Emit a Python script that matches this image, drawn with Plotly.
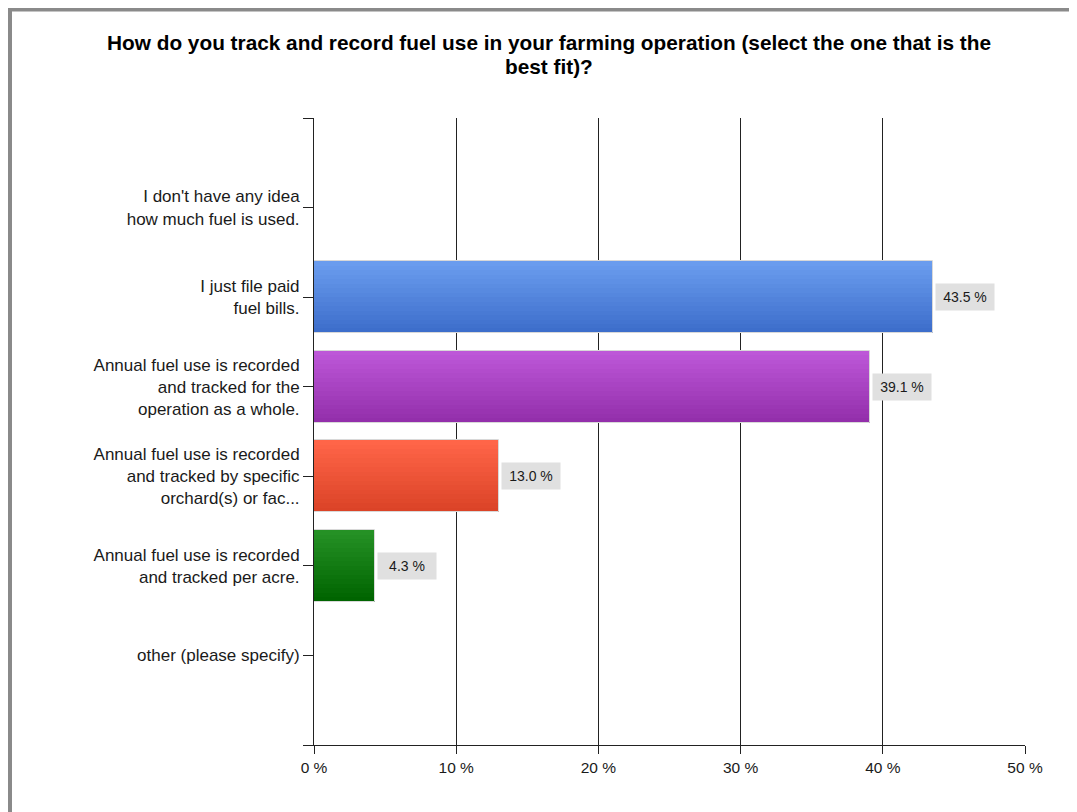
import plotly.graph_objects as go

# ---- data ----
categories = [
    "I don't have any idea<br>how much fuel is used.",
    "I just file paid<br>fuel bills.",
    "Annual fuel use is recorded<br>and tracked for the<br>operation as a whole.",
    "Annual fuel use is recorded<br>and tracked by specific<br>orchard(s) or fac...",
    "Annual fuel use is recorded<br>and tracked per acre.",
    "other (please specify)",
]
values = [0.0, 43.5, 39.1, 13.0, 4.3, 0.0]
value_labels = ["", "43.5 %", "39.1 %", "13.0 %", "4.3 %", ""]
x_ticks = [0, 10, 20, 30, 40, 50]
x_tick_labels = ["0 %", "10 %", "20 %", "30 %", "40 %", "50 %"]
title_lines = [
    "How do you track and record fuel use in your farming operation (select the one that is the",
    "best fit)?",
]

# gradient colours (top, bottom) per bar
top_colors = ["#6a9cee", "#6a9cee", "#bd57d8", "#ff6548", "#259125", "#259125"]
bottom_colors = ["#3d6ecb", "#3d6ecb", "#932fab", "#db4327", "#006400", "#006400"]

# page body has an 8px margin; compensate
OFF = 8
W, H = 1077 - OFF, 812 - OFF
ML, MT = 314 - OFF, 118 - OFF
MR, MB = 1077 - 1025, 812 - 745
PW, PH = W - ML - MR, H - MT - MB

FONT = "Liberation Sans, Arial, sans-serif"
TXT = "#1a1a1a"


def hex2rgb(h):
    h = h.lstrip("#")
    return tuple(int(h[i:i + 2], 16) for i in (0, 2, 4))


def mix(c1, c2, t):
    a, b = hex2rgb(c1), hex2rgb(c2)
    return "rgb(%d,%d,%d)" % tuple(round(a[i] + (b[i] - a[i]) * t) for i in range(3))


# reference-pixel -> paper coords
def px_x(px):
    return (px - OFF - ML) / PW


def px_y(py):
    return (MT + PH - (py - OFF)) / PH


fig = go.Figure()
ypos = list(range(len(categories)))
N = 16
BW = 0.8
for k in range(N):
    t = k / (N - 1)
    fig.add_trace(go.Bar(
        x=values, y=ypos, orientation="h",
        width=BW / N + 0.002, offset=-BW / 2 + k * BW / N,
        marker=dict(color=[mix(top_colors[i], bottom_colors[i], t) for i in range(len(values))],
                    line=dict(width=0)),
        hoverinfo="skip", showlegend=False,
    ))
# outline
fig.add_trace(go.Bar(
    x=values, y=ypos, orientation="h", width=BW,
    marker=dict(color="rgba(0,0,0,0)", line=dict(color="#d8d8d8", width=1)),
    hoverinfo="skip", showlegend=False,
))

for i, (v, lab) in enumerate(zip(values, value_labels)):
    if lab:
        fig.add_annotation(
            x=v, y=i, xref="x", yref="y", text=lab, showarrow=False,
            xanchor="left", yanchor="middle", xshift=2,
            bgcolor="#e0e0e0", width=56, height=24, align="center",
            font=dict(family=FONT, size=14, color=TXT),
        )

# title (two lines, tighter spacing like the reference)
for line, py in zip(title_lines, [43, 67]):
    fig.add_annotation(
        x=px_x(549), y=px_y(py), xref="paper", yref="paper",
        text="<b>" + line + "</b>", showarrow=False,
        xanchor="center", yanchor="middle",
        font=dict(family=FONT, size=20.8, color="#000"),
    )

# outer window border
fig.add_shape(type="line", xref="paper", yref="paper",
              x0=px_x(10), x1=px_x(10), y0=px_y(8), y1=px_y(830),
              line=dict(color="#8a8a8a", width=4))
fig.add_shape(type="line", xref="paper", yref="paper",
              x0=px_x(8), x1=px_x(1100), y0=px_y(9.5), y1=px_y(9.5),
              line=dict(color="#8a8a8a", width=4))

fig.update_layout(
    width=W, height=H,
    margin=dict(l=ML, r=MR, t=MT, b=MB, pad=0),
    paper_bgcolor="white", plot_bgcolor="white",
    barmode="overlay", bargap=0,
    font=dict(family=FONT, color=TXT),
    xaxis=dict(
        range=[0, 50], tickvals=x_ticks, ticktext=x_tick_labels,
        showgrid=True, gridcolor="#222", gridwidth=1,
        zeroline=False, showline=True, linecolor="#222", linewidth=1,
        ticks="outside", ticklen=8, tickcolor="#222", tickwidth=1,
        tickfont=dict(family=FONT, size=15.5, color=TXT),
        fixedrange=True,
    ),
    yaxis=dict(
        range=[len(categories), -1],
        tickvals=[-1] + ypos + [len(categories)],
        ticktext=[""] + categories + [""],
        showgrid=False, zeroline=False, showline=True, linecolor="#222", linewidth=1,
        ticks="outside", ticklen=10, tickcolor="#222", tickwidth=1,
        tickfont=dict(family=FONT, size=17, color=TXT),
        fixedrange=True,
    ),
)

fig.write_html("out.html")
